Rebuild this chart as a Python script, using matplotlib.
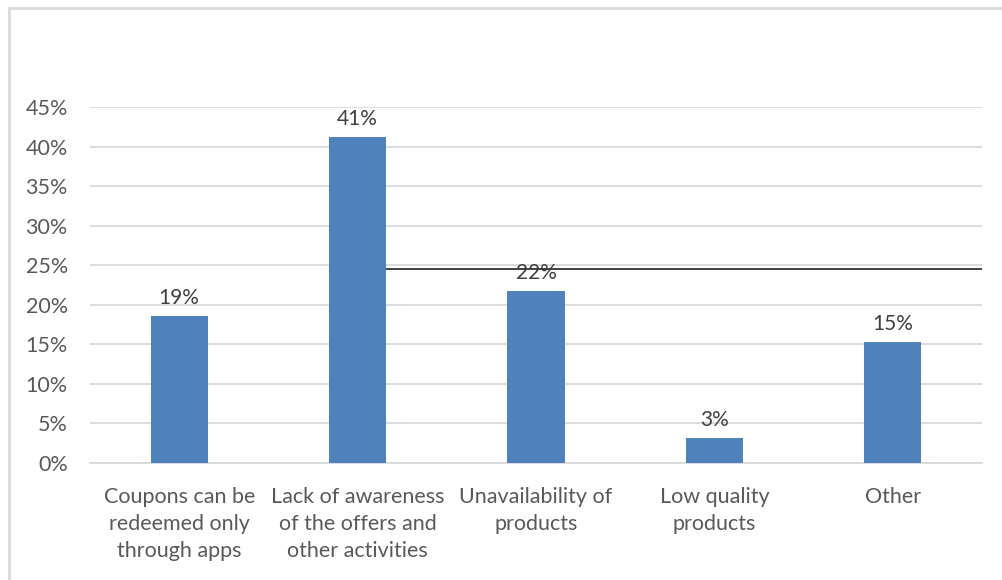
import matplotlib.pyplot as plt
from matplotlib.patches import Rectangle

categories = ["Coupons can be\nredeemed only\nthrough apps",
              "Lack of awareness\nof the offers and\nother activities",
              "Unavailability of\nproducts",
              "Low quality\nproducts",
              "Other"]
shares = [18.6, 41.2, 21.7, 3.2, 15.3]
yticks = [0, 5, 10, 15, 20, 25, 30, 35, 40, 45]
ref_level = 24.5

plt.rcParams['font.family'] = ['Lato', 'DejaVu Sans']
txt = "#595959"
bar_w = 0.32

fig = plt.figure(figsize=(10.03, 5.8), dpi=100)
ax = fig.add_axes([90 / 1003, 1 - 463 / 580, 892 / 1003, 356 / 580])

x = list(range(len(categories)))
ax.bar(x, shares, width=bar_w, color="#4F81BD", zorder=3)
for xi, v in zip(x, shares):
    ax.text(xi, v + 1.0, f"{round(v)}%", ha="center", va="bottom",
            fontsize=15, color="#404040", zorder=4)

# dark rule running across the right part of the plot
ax.hlines(ref_level, 1 + bar_w / 2, 4.5, color="#333333", lw=1.3,
          clip_on=False, zorder=5)

ax.set_xlim(-0.5, 4.5)
ax.set_ylim(0, 45)
ax.set_yticks(yticks)
ax.set_yticklabels([f"{t}%" for t in yticks])
ax.yaxis.grid(True, color="#D9D9D9", lw=1.3)
ax.set_axisbelow(True)
ax.set_xticks(x)
ax.set_xticklabels(categories, linespacing=1.45)
ax.tick_params(axis="both", length=0, labelsize=15.5, colors=txt)
ax.tick_params(axis="y", pad=16)
ax.tick_params(axis="x", pad=17)
for s in ["top", "right", "left"]:
    ax.spines[s].set_visible(False)
ax.spines["bottom"].set_color("#D9D9D9")
ax.spines["bottom"].set_linewidth(1.3)

# outer chart frame
fig.patches.append(Rectangle((9 / 1003, -0.05), 1.2, 1 - 8 / 580 + 0.05,
                             transform=fig.transFigure, fill=False,
                             edgecolor="#D9D9D9", lw=2))

fig.savefig("out.png", dpi=100)
